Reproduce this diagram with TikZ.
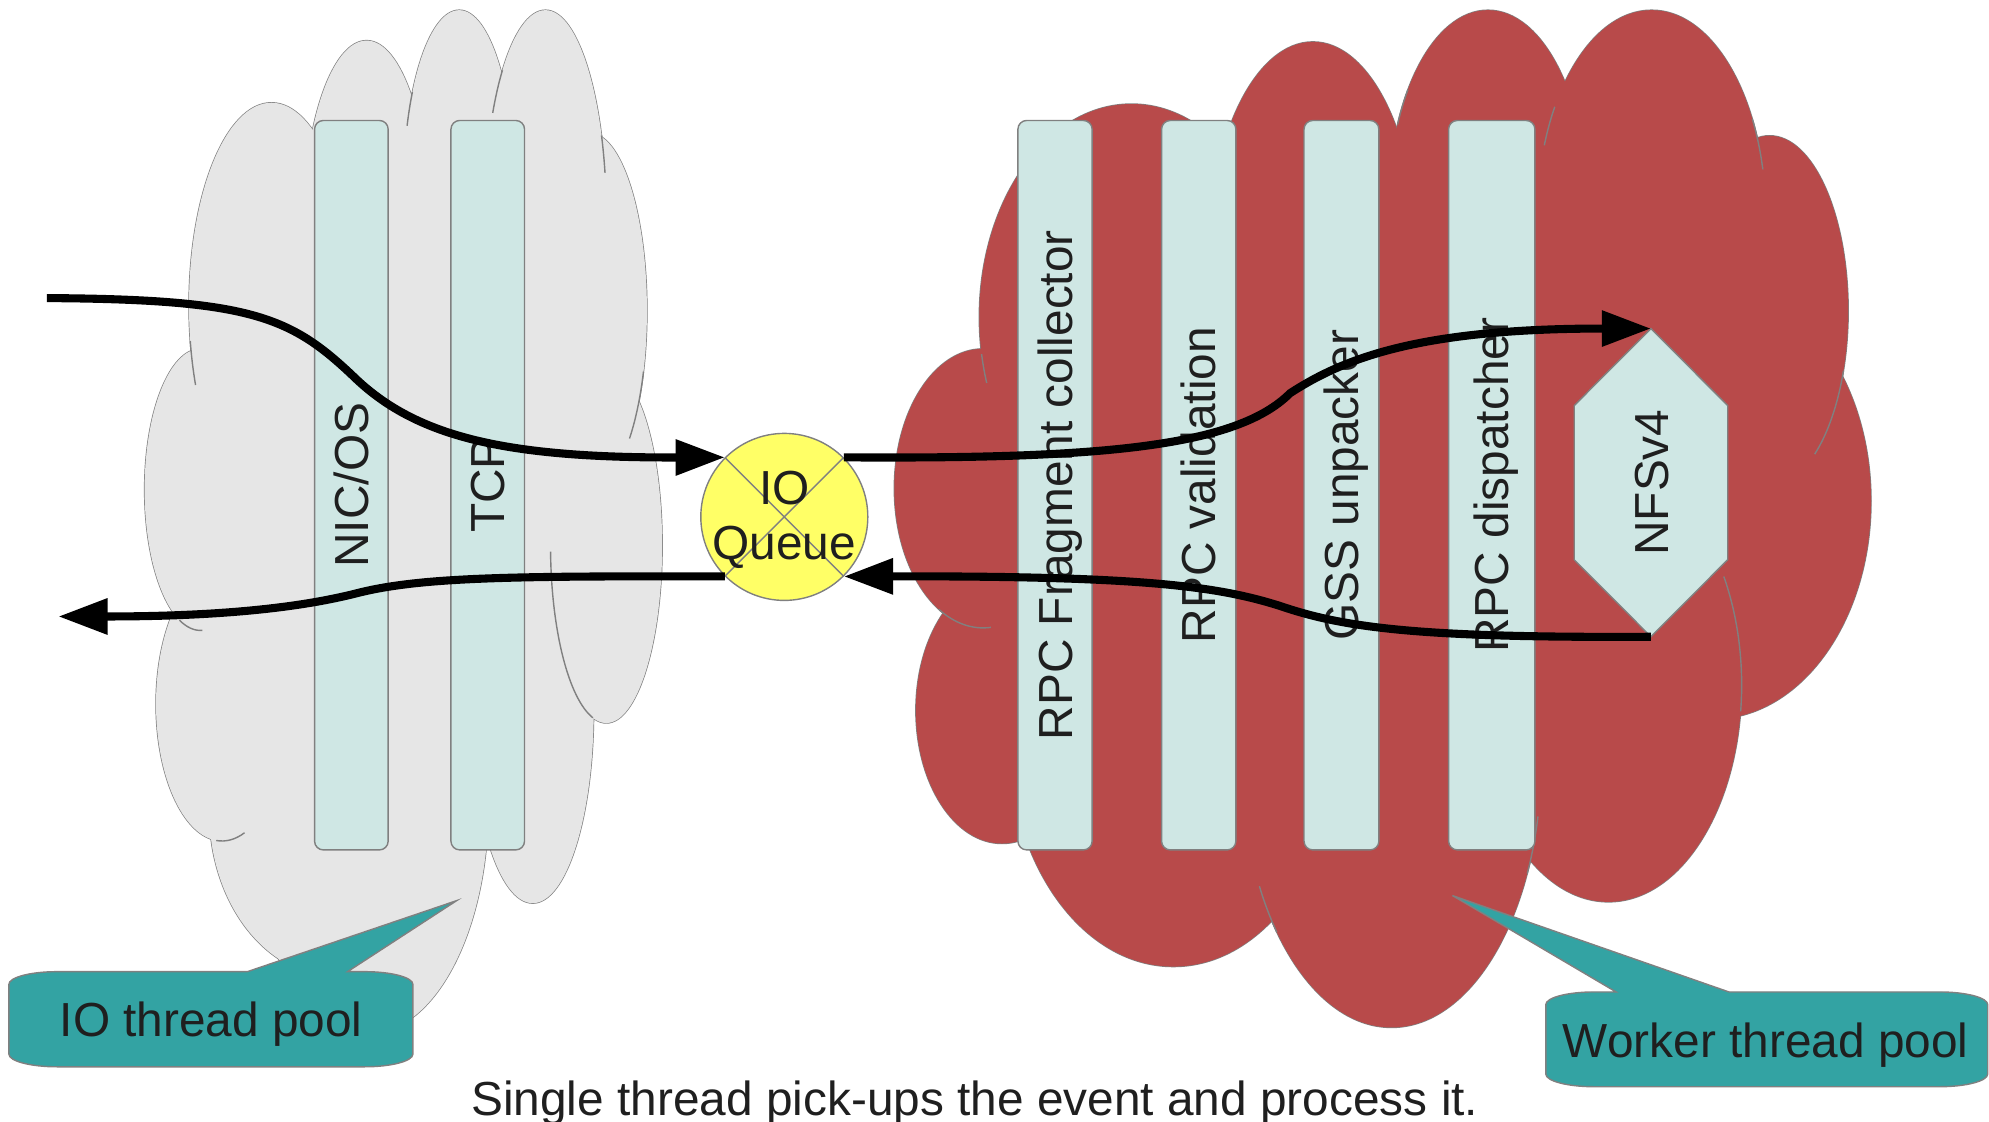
\documentclass[tikz,border=0pt]{standalone}
\usepackage{fontspec}
\setmainfont{Liberation Sans}
\usetikzlibrary{arrows.meta,calc}
\definecolor{cgrey}{RGB}{230,230,230}
\definecolor{cred}{RGB}{184,74,74}
\definecolor{cbar}{RGB}{207,231,228}
\definecolor{cqueue}{RGB}{255,255,102}
\definecolor{ccall}{RGB}{51,163,163}
\definecolor{cline}{RGB}{128,128,128}
\pgfdeclarelayer{back}
\pgfdeclarelayer{mid}
\pgfsetlayers{back,mid,main}

\begin{document}
\begin{tikzpicture}[
  x=0.12685mm, y=-0.12685mm,
  font=\fontsize{13.6}{15.5}\selectfont,
  text=black!88,
  bulb/.style={draw=cline, line width=0.4pt},
  seam/.style={draw=cline, line width=0.4pt},
  bar/.style={draw=cline, fill=cbar, rounded corners=2.5pt, rotate=90, inner sep=0pt, outer sep=0pt,
              minimum width=72.94mm, text height=9.7pt, text depth=0pt},
  queue/.style={circle, draw=cline, fill=cqueue, minimum size=16.7mm, inner sep=-2pt, align=center},
  hexa/.style={rotate=90, minimum width=30.82mm, minimum height=15.35mm, inner sep=0pt, outer sep=0pt,
               text height=9.7pt, text depth=0pt},
  ar/.style={-{Triangle[length=14pt, width=9.8pt]}, line width=2.3pt},
  callout/.style={fill=ccall, draw=cline, line width=0.4pt},
]
\useasboundingbox (0,0) rectangle (1568,884);

% --- the two thread pools (clouds) ---
\def\greybulbs{214/241/65/160, 289/180/50/148, 362/150/44/142, 430/170/48/162,
  465/245/45/140, 478/430/44/140, 158/386/44/111, 175/555/52/108,
  265/640/100/130, 290/635/95/180, 420/560/48/152}
\def\redbulbs{892/250/120/168, 1035/200/82/167, 1173/160/78/152, 1302/170/90/162,
  1395/245/62/138, 1350/395/125/172, 1268/540/105/171, 1097/600/118/210,
  925/580/130/182, 790/560/68/105, 775/385/70/110}
% inner seams: centre / radii / start and end angle
\def\greyseams{214/241/65/160/170/157, 465/245/45/140/20/46, 478/430/44/140/178/104,
  158/386/44/111/112/88, 175/555/52/108/95/70, 362/150/44/142/213/201,
  430/170/48/162/225/210, 430/170/48/162/337/348}
\def\redseams{892/250/120/168/170/162, 1173/160/78/152/216/204, 1302/170/90/162/212/200,
  1302/170/90/162/332/347, 1395/245/62/138/20/55, 1268/540/105/171/330/367,
  1097/600/118/210/152/140, 1097/600/118/210/12/25, 775/385/70/110/120/85}
\begin{pgfonlayer}{back}
  \foreach \cx/\cy/\rx/\ry in \greybulbs
    \filldraw[bulb, fill=cgrey] (\cx,\cy) ellipse [x radius=\rx, y radius=\ry];
  \foreach \cx/\cy/\rx/\ry in \greybulbs
    \fill[cgrey] (\cx,\cy) ellipse [x radius=\rx, y radius=\ry];
  \fill[cgrey] (310,420) ellipse [x radius=140, y radius=240];
  \foreach \cx/\cy/\rx/\ry/\a/\b in \greyseams
    \draw[seam] (\cx,\cy) ++({\rx*cos(\a)},{\ry*sin(\a)}) arc[start angle=\a, end angle=\b, x radius=\rx, y radius=\ry];
  \foreach \cx/\cy/\rx/\ry in \redbulbs
    \filldraw[bulb, fill=cred] (\cx,\cy) ellipse [x radius=\rx, y radius=\ry];
  \foreach \cx/\cy/\rx/\ry in \redbulbs
    \fill[cred] (\cx,\cy) ellipse [x radius=\rx, y radius=\ry];
  \fill[cred] (1090,400) ellipse [x radius=290, y radius=270];
  \foreach \cx/\cy/\rx/\ry/\a/\b in \redseams
    \draw[seam] (\cx,\cy) ++({\rx*cos(\a)},{\ry*sin(\a)}) arc[start angle=\a, end angle=\b, x radius=\rx, y radius=\ry];
\end{pgfonlayer}

% --- layers ---
\node[bar, minimum height=7.36mm] (nic) at (277,382.5) {NIC/OS};
\node[bar, minimum height=7.36mm] (tcp) at (384.5,382.5) {TCP};
\node[bar, minimum height=7.42mm] (frag) at (831.7,382.5) {RPC Fragment collector};
\node[bar, minimum height=7.43mm] (valid) at (945,382.5) {RPC validation};
\node[bar, minimum height=7.48mm] (gss) at (1057.5,382.5) {GSS unpacker};
\node[bar, minimum height=8.63mm] (disp) at (1176,382.5) {RPC dispatcher};

% --- queue and NFS ---
\node[queue, path picture={
    \draw[cline] (path picture bounding box.north west) -- (path picture bounding box.south east)
                 (path picture bounding box.north east) -- (path picture bounding box.south west);}]
  (q) at (618.3,407.5) {\rule{0pt}{11.1pt}IO\\Queue};
\node[hexa] (nfs) at (1301.5,380.5) {NFSv4};
\begin{pgfonlayer}{mid}
  \filldraw[fill=cbar, draw=cline] (nfs.east) -- ($(nfs.south)!.5!(nfs.south east)$)
    -- ($(nfs.south)!.5!(nfs.south west)$) -- (nfs.west)
    -- ($(nfs.north)!.5!(nfs.north west)$) -- ($(nfs.north)!.5!(nfs.north east)$) -- cycle;
\end{pgfonlayer}

% --- request / reply paths ---
\coordinate (in) at (37,235);
\coordinate (out) at (46,486);
\draw[ar] (in) .. controls (200,236) and (230,250) .. (281,299)
  .. controls (330,345) and (400,361) .. (q.north west);
\draw[ar] (q.south west) .. controls (400,454) and (330,455) .. (280,468)
  .. controls (240,478) and (180,486) .. (out);
\draw[ar] (q.north east) .. controls (870,362) and (975,352) .. (1017,310)
  .. controls (1060,282) and (1120,259) .. (nfs.east);
\draw[ar] (nfs.west) .. controls (1120,503) and (1060,495) .. (1010,478)
  .. controls (960,462) and (900,454) .. (q.south east);

% --- callouts ---
\filldraw[callout] (7,776) .. controls (7,770.5) and (24,766) .. (45,766) -- (195,766)
  -- (360,710) -- (274,766) -- (287.5,766) .. controls (308.5,766) and (325.5,770.5) .. (325.5,776)
  -- (325.5,831) .. controls (325.5,836.5) and (308.5,841) .. (287.5,841) -- (45,841)
  .. controls (24,841) and (7,836.5) .. (7,831) -- cycle;
\node[anchor=base] (iopool) at (166.5,817.5) {IO thread pool};
\filldraw[callout] (1218.6,792) .. controls (1218.6,786.5) and (1235.6,782) .. (1256.6,782) -- (1274,782)
  -- (1145,706) -- (1363,782) -- (1529,782) .. controls (1550,782) and (1567,786.5) .. (1567,792)
  -- (1567,846.7) .. controls (1567,852.2) and (1550,856.7) .. (1529,856.7) -- (1256.6,856.7)
  .. controls (1235.6,856.7) and (1218.6,852.2) .. (1218.6,846.7) -- cycle;
\node[anchor=base] (wpool) at (1392,833.5) {Worker thread pool};

\node[anchor=base] (caption) at (768.5,879) {Single thread pick-ups the event and process it.};
\end{tikzpicture}
\end{document}
